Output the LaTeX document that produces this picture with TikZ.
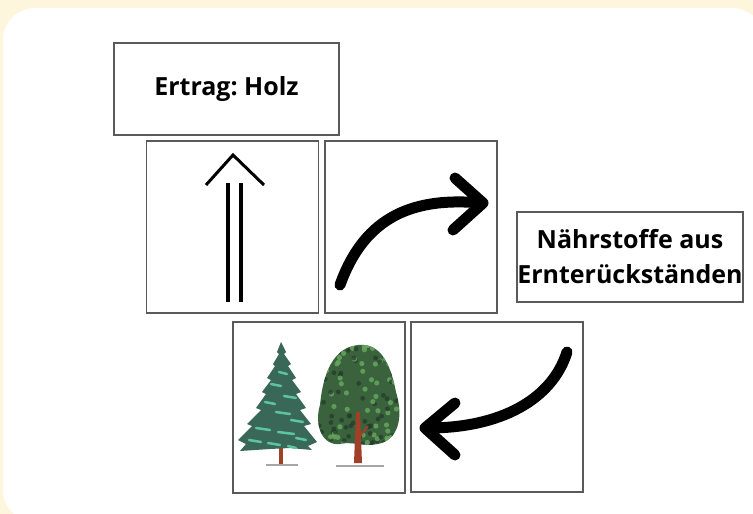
\documentclass[tikz,border=0pt]{standalone}
\usepackage{fontspec}
\setmainfont{Open Sans}
\definecolor{creme}{RGB}{253,246,220}
\definecolor{rahmen}{RGB}{90,90,90}
\definecolor{tanne}{RGB}{58,104,88}
\definecolor{tanneHell}{RGB}{92,196,160}
\definecolor{laub}{RGB}{58,98,60}
\definecolor{laubHell}{RGB}{104,168,96}
\definecolor{laubDunkel}{RGB}{34,58,40}
\definecolor{stamm}{RGB}{160,64,40}
\tikzset{
	kasten/.style={draw=rahmen, line width=1.2pt, fill=white, inner sep=0pt, minimum width=172pt, minimum height=172pt},
	textkasten/.style={kasten, align=center, font=\bfseries\fontsize{25}{35}\selectfont},
	dickpfeil/.style={line width=11pt, line cap=round, line join=round},
}
\begin{document}
\begin{tikzpicture}[x=1pt,y=-1pt]
	\useasboundingbox (0,0) rectangle (753,514);
	\fill[creme] (0,0) rectangle (753,514);
	\fill[white, rounded corners=32pt] (3,8) rectangle (764,522);
	% boxes
	\node[textkasten, minimum width=225pt, minimum height=92pt] (ertrag) at (226.5,89) {Ertrag:\ Holz};
	\node[kasten] (hoch) at (232.5,227) {};
	\node[kasten] (bogenoben) at (411,227) {};
	\node[textkasten, minimum width=226pt, minimum height=90pt] (naehrstoffe) at (630,257) {N\"ahrstoffe aus\\Ernter\"uckst\"anden};
	\node[kasten, minimum height=171pt] (baeume) at (319,407.5) {};
	\node[kasten, minimum height=170pt] (bogenunten) at (497,407) {};
	% double arrow upwards
	\draw[line width=4pt] (228,183) -- (228,302) (241,183) -- (241,302);
	\draw[line width=3pt] (206,185) -- (233,155) -- (264,185);
	% curved arrow to the right
	\draw[dickpfeil] (340,285) .. controls (365,215) and (415,197) .. (481,203);
	\draw[dickpfeil] (455,178) -- (483,203) -- (453,230);
	% curved arrow back to the trees
	\draw[dickpfeil] (567,352) .. controls (552,400) and (500,428) .. (428,428);
	\draw[dickpfeil] (455,403) -- (425,428) -- (455,455);
	% fir
	\draw[black!35, line width=1.2pt] (266,465) -- (298,465) (336,466) -- (384,466);
	\fill[stamm] (279,444) rectangle (283,464);
	\fill[tanne] (281,342) -- (286,352) -- (284,354) -- (291,364) -- (288,366) -- (296,378)
		-- (292,380) -- (301,392) -- (296,394) -- (306,408) -- (300,410) -- (311,424)
		-- (304,426) -- (317,442) -- (308,446) -- (312,450) -- (290,448) -- (270,449)
		-- (240,451) -- (246,444) -- (238,440) -- (252,426) -- (247,424) -- (261,410)
		-- (256,408) -- (266,394) -- (262,392) -- (271,380) -- (267,378) -- (275,366)
		-- (273,364) -- (279,354) -- (277,352) -- cycle;
	\foreach \x/\y/\l in {283/372/4, 276/384/5, 290/396/6, 270/402/5, 283/412/7, 297/420/6,
		263/428/7, 286/432/8, 301/438/5, 255/440/6, 274/443/6, 292/446/4}
		\draw[tanneHell, line width=2.5pt, line cap=round] (\x-\l,\y) -- (\x+\l,\y+2);
	% broadleaf tree
	\begin{scope}
		\path[clip] (358,345) .. controls (384,342) and (392,372) .. (396,392)
			.. controls (404,418) and (398,440) .. (378,444)
			.. controls (365,447) and (350,441) .. (340,444)
			.. controls (322,446) and (314,425) .. (320,405)
			.. controls (322,385) and (328,348) .. (358,345);
		\fill[laub] (310,340) rectangle (405,450);
		\pgfmathsetseed{17}
		\foreach \i in {1,...,70} {
			\pgfmathsetmacro\px{316+88*rnd}
			\pgfmathsetmacro\py{343+104*rnd}
			\fill[laubHell, opacity=0.8] (\px,\py) circle (2.6pt);
			\pgfmathsetmacro\qx{316+88*rnd}
			\pgfmathsetmacro\qy{343+104*rnd}
			\fill[laubDunkel, opacity=0.7] (\qx,\qy) circle (2.4pt);
		}
	\end{scope}
	\fill[stamm] (356,412) -- (360,412) -- (362,463) -- (354,463) -- cycle;
	\draw[stamm, line width=2pt] (358,438) -- (368,426);
\end{tikzpicture}
\end{document}
